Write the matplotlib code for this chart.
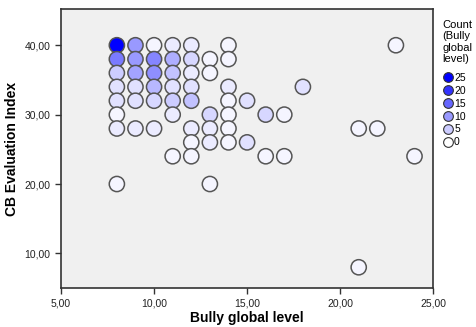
import matplotlib
matplotlib.use("Agg")
import matplotlib.pyplot as plt
from matplotlib.colors import LinearSegmentedColormap, Normalize
from matplotlib.lines import Line2D

plt.rcParams["font.family"] = ["Liberation Sans", "DejaVu Sans"]

# binned scatter: bully level, CB index, number of cases
bully = [8, 9, 10, 11, 12, 14, 23,
         8, 9, 10, 11, 12, 13, 14,
         8, 9, 10, 11, 12, 13,
         8, 9, 10, 11, 12, 14, 18,
         8, 9, 10, 11, 12, 14, 15,
         8, 11, 13, 14, 16, 17,
         8, 9, 10, 12, 13, 14, 21, 22,
         12, 13, 14, 15,
         11, 12, 16, 17, 24,
         8, 13,
         21]
cb_index = [40, 40, 40, 40, 40, 40, 40,
            38, 38, 38, 38, 38, 38, 38,
            36, 36, 36, 36, 36, 36,
            34, 34, 34, 34, 34, 34, 34,
            32, 32, 32, 32, 32, 32, 32,
            30, 30, 30, 30, 30, 30,
            28, 28, 28, 28, 28, 28, 28, 28,
            26, 26, 26, 26,
            24, 24, 24, 24, 24,
            20, 20,
            8]
counts = [25, 10, 1, 2, 2, 1, 1,
          13, 10, 12, 8, 4, 1, 1,
          5, 9, 11, 6, 2, 1,
          3, 3, 7, 3, 3, 2, 3,
          3, 3, 4, 5, 6, 1, 3,
          1, 2, 4, 1, 4, 1,
          2, 2, 2, 2, 2, 1, 1, 1,
          1, 2, 1, 3,
          1, 1, 1, 1, 1,
          1, 1,
          1]

legend_counts = [25, 20, 15, 10, 5, 0]
x_ticks = [5, 10, 15, 20, 25]
y_ticks = [10, 20, 30, 40]

cmap = LinearSegmentedColormap.from_list("wb", ["#ffffff", "#0000ff"])
norm = Normalize(vmin=0, vmax=25)

fig = plt.figure(figsize=(4.77, 3.27), dpi=100)
ax = fig.add_axes([0.128, 0.119, 0.780, 0.853])
ax.set_facecolor("#f0f0f0")

ax.scatter(bully, cb_index, c=counts, cmap=cmap, norm=norm, s=120,
           edgecolors="#555555", linewidths=1.1, zorder=3)

ax.set_xlim(5, 25)
ax.set_ylim(5, 45.2)
ax.set_xticks(x_ticks)
ax.set_yticks(y_ticks)
ax.set_xticklabels([f"{v:.2f}".replace(".", ",") for v in x_ticks])
ax.set_yticklabels([f"{v:.2f}".replace(".", ",") for v in y_ticks])
ax.tick_params(labelsize=7.5, length=4, width=1, color="#333333", labelcolor="#222222")
for sp in ax.spines.values():
    sp.set_color("#333333")
    sp.set_linewidth(1.2)

ax.set_xlabel("Bully global level", fontsize=10, fontweight="bold", labelpad=2)
ax.set_ylabel("CB Evaluation Index", fontsize=10, fontweight="bold", labelpad=4)

handles = [Line2D([], [], linestyle="", marker="o", markersize=7,
                  markerfacecolor=cmap(norm(v)), markeredgecolor="#333333",
                  markeredgewidth=0.8)
           for v in legend_counts]
leg = fig.legend(handles, [str(v) for v in legend_counts],
                 title="Count\n(Bully\nglobal\nlevel)", loc="upper left",
                 bbox_to_anchor=(0.928, 0.94), frameon=False, fontsize=7.5,
                 title_fontsize=8, handletextpad=0.1, labelspacing=0.28,
                 handlelength=1.0, borderaxespad=0, borderpad=0)
leg._legend_box.align = "left"
leg._legend_box.sep = 6

fig.savefig("out.png", dpi=100)
